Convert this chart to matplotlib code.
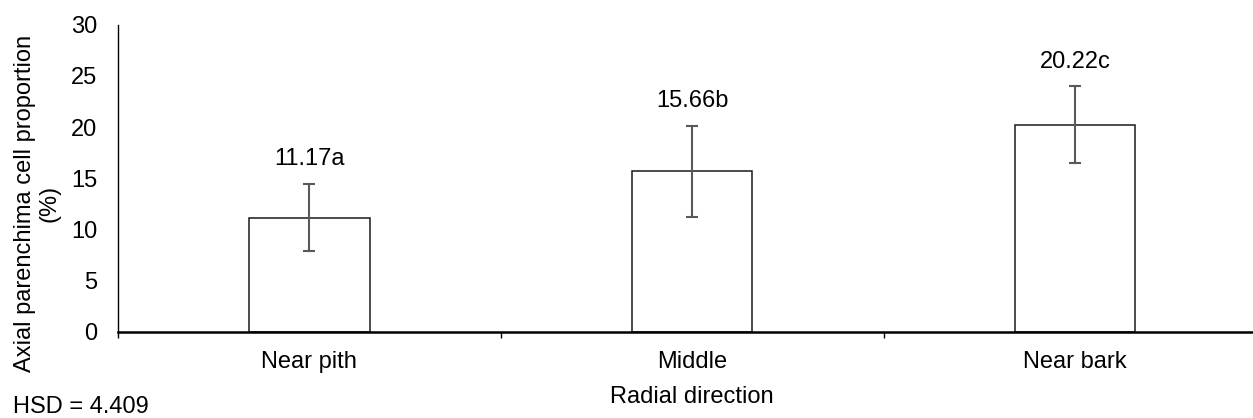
import matplotlib
matplotlib.use('Agg')
import matplotlib.pyplot as plt
import numpy as np

plt.rcParams['font.family'] = ['Liberation Sans', 'DejaVu Sans']

# DATA
categories = ['Near pith', 'Middle', 'Near bark']
means = [11.17, 15.66, 20.22]
errors = [3.3, 4.43, 3.75]
letters = ['a', 'b', 'c']
hsd = 4.409

fs = 17

fig = plt.figure(figsize=(12.53, 4.18), dpi=100)
ax = fig.add_axes([118/1253, 86/418, 1148.5/1253, 307.5/418])

xs = np.arange(len(categories))

# BARS
ax.bar(xs, means,
       width=0.314,
       color='white',
       edgecolor='#1a1a1a',
       linewidth=1.1,
       zorder=2)

ax.errorbar(xs, means, yerr=errors,
            fmt='none',
            ecolor='#595959',
            elinewidth=1.5,
            capsize=4.3,
            capthick=1.5,
            zorder=3)

# LABELS ABOVE ERROR BARS
for x, m, e, l in zip(xs, means, errors, letters):
    ax.annotate('%.2f%s' % (m, l),
                xy=(x, m + e),
                xytext=(0, 13.5),
                textcoords='offset points',
                ha='center', va='baseline',
                fontsize=fs,
                color='black')

# AXES
ax.set_xlim(-0.5, len(categories) - 0.5)
ax.set_ylim(0, 30)
ax.set_yticks(np.arange(0, 31, 5))
ax.tick_params(axis='y', length=0, pad=15, labelsize=fs)

ax.set_xticks(np.arange(-0.5, len(categories), 1.0))
ax.set_xticklabels([])
ax.set_xticks(xs, minor=True)
ax.set_xticklabels(categories, minor=True)
ax.tick_params(axis='x', which='major', length=6*0.72, width=1.0, color='black')
ax.tick_params(axis='x', which='minor', length=0, pad=14, labelsize=fs)

for s in ['top', 'right']:
    ax.spines[s].set_visible(False)
ax.spines['bottom'].set_linewidth(1.8)
ax.spines['left'].set_linewidth(1.0)
ax.spines['bottom'].set_color('black')
ax.spines['left'].set_color('black')

ax.set_xlabel('Radial direction', fontsize=fs, labelpad=9)

fig.text(37/1253, 1 - 203/418,
         'Axial parenchima cell proportion\n(%)',
         rotation=90, ha='center', va='center',
         fontsize=fs, linespacing=1.15)

fig.text(13/1253, 0, 'HSD = %.3f' % hsd,
         ha='left', va='bottom', fontsize=fs)

plt.savefig('out.png', dpi=100)
